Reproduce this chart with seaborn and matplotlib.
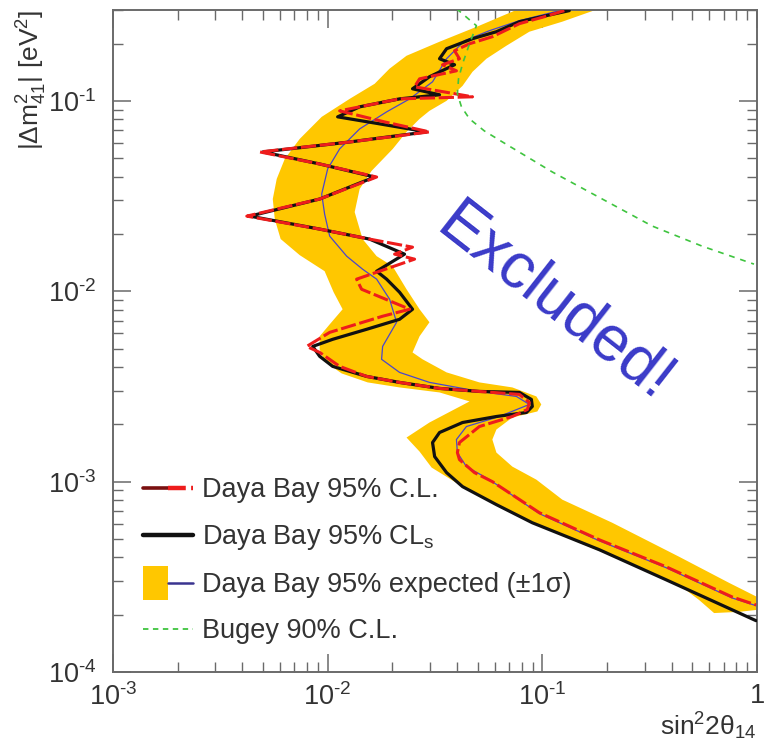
import numpy as np
import matplotlib
matplotlib.use("Agg")
import matplotlib.pyplot as plt
import matplotlib.patches as mpatches
from matplotlib.lines import Line2D
from matplotlib.legend_handler import HandlerPatch, HandlerTuple
from matplotlib.ticker import LogLocator, NullFormatter
import seaborn as sns

# ---------------------------------------------------------------- data
# Expected sensitivity band (+-1 sigma): outer edge and inner edge, top to bottom
band_outer_x = [0.0782, 0.0509, 0.0332, 0.0233, 0.0194, 0.01655, 0.01266, 0.00938,
                0.00741, 0.00631, 0.00579, 0.00555, 0.00567, 0.00604, 0.00741, 0.00968,
                0.01066, 0.01174, 0.01022, 0.00918, 0.00918, 0.00968, 0.01162, 0.01535,
                0.02162, 0.0332, 0.0458, 0.0298, 0.0233, 0.0268, 0.0305, 0.0425,
                0.0725, 0.1486, 0.3046, 0.4338, 0.537, 0.631, 0.825, 1.0]
band_outer_y = [0.305, 0.2482, 0.2044, 0.1725, 0.1474, 0.1229, 0.1024, 0.0824,
                0.0631, 0.0495, 0.0389, 0.0305, 0.0239, 0.0188, 0.01547, 0.01274,
                0.00988, 0.00804, 0.00670, 0.00580, 0.00495, 0.00428, 0.00370, 0.00332,
                0.003124, 0.00294, 0.002637, 0.002044, 0.001704, 0.001438, 0.001185, 0.000941,
                0.000687, 0.000477, 0.000344, 0.000287, 0.000239, 0.000204, 0.000207, 0.000212]
band_inner_x = [0.1841, 0.1239, 0.0870, 0.0680, 0.0549, 0.0473, 0.0425, 0.0358,
                0.0298, 0.0268, 0.0233, 0.0201, 0.0160, 0.01409, 0.01336, 0.01455,
                0.01691, 0.02006, 0.0233, 0.0268, 0.0298, 0.0268, 0.02485, 0.02767,
                0.0358, 0.0509, 0.0725, 0.0938, 0.0989, 0.0948, 0.0725, 0.0611,
                0.0585, 0.0611, 0.0725, 0.0938, 0.1239, 0.2117, 0.4338, 0.7409, 1.0]
band_inner_y = [0.305, 0.2605, 0.2307, 0.1947, 0.1664, 0.1421, 0.1199, 0.1000,
                0.0886, 0.0804, 0.0687, 0.0559, 0.0428, 0.03442, 0.02605, 0.01878,
                0.01528, 0.01354, 0.01024, 0.00804, 0.00687, 0.00580, 0.00477, 0.00439,
                0.003747, 0.00332, 0.003124, 0.002802, 0.002543, 0.002336, 0.002172, 0.001878,
                0.001664, 0.001421, 0.001199, 0.001024, 0.000804, 0.000608, 0.000403, 0.000294, 0.000248]

# Expected (median) sensitivity
expected_x = [0.1200, 0.0782, 0.0567, 0.0434, 0.0358, 0.0308, 0.0241, 0.01882,
              0.01409, 0.01137, 0.0100, 0.00938, 0.00968, 0.01022, 0.01226, 0.01455,
              0.01691, 0.01943, 0.02094, 0.01803, 0.01783, 0.02162, 0.0298, 0.0509,
              0.0757, 0.0870, 0.0631, 0.0443, 0.0398, 0.0402, 0.0443, 0.0567,
              0.0968, 0.1841, 0.3773, 0.765, 0.99]
expected_y = [0.2977, 0.2637, 0.2336, 0.2069, 0.1664, 0.1259, 0.1024, 0.0875,
              0.0712, 0.0559, 0.0439, 0.0324, 0.0254, 0.01947, 0.01528, 0.01305,
              0.01157, 0.00908, 0.00687, 0.00513, 0.00439, 0.003747, 0.00332, 0.002976,
              0.002802, 0.002543, 0.002198, 0.001947, 0.001664, 0.001421, 0.001199, 0.001024,
              0.000679, 0.000489, 0.000353, 0.000245, 0.000223]

# Observed 95% CLs contour
cls_x = [0.1335, 0.1044, 0.0782, 0.0611, 0.0473, 0.0358, 0.0332, 0.0390,
         0.0298, 0.02485, 0.0332, 0.02162, 0.01409, 0.01113, 0.01746, 0.0289,
         0.01266, 0.00499, 0.00918, 0.01655, 0.00918, 0.00434, 0.00918, 0.01568,
         0.02281, 0.01691, 0.01882, 0.02162, 0.02485, 0.02162, 0.01519, 0.01055,
         0.00852, 0.00918, 0.01055, 0.01519, 0.02162, 0.0332, 0.0509, 0.0782,
         0.0889, 0.0898, 0.0843, 0.0611, 0.0425, 0.0332, 0.0308, 0.0315,
         0.0358, 0.0425, 0.0611, 0.0898, 0.1841, 0.3773, 0.99]
cls_y = [0.2977, 0.2802, 0.2605, 0.2307, 0.2120, 0.1878, 0.1664, 0.1547,
         0.1338, 0.1157, 0.1076, 0.1024, 0.0930, 0.0824, 0.0757, 0.0687,
         0.0608, 0.0539, 0.0466, 0.0398, 0.0305, 0.0248, 0.0212, 0.01878,
         0.01566, 0.01274, 0.01157, 0.00988, 0.00804, 0.00712, 0.00631, 0.00559,
         0.00513, 0.00455, 0.00403, 0.003569, 0.003319, 0.003087, 0.002976, 0.002941,
         0.002702, 0.002482, 0.002307, 0.002198, 0.002044, 0.001811, 0.001604, 0.001354,
         0.001115, 0.000941, 0.000757, 0.000608, 0.000439, 0.000305, 0.000186]

# Observed 95% C.L. contour
cl_x = [0.1266, 0.1022, 0.0782, 0.0585, 0.0458, 0.0390, 0.0411, 0.0343,
        0.0398, 0.0268, 0.0254, 0.0473, 0.0216, 0.01137, 0.01842, 0.0298,
        0.01266, 0.00483, 0.00918, 0.01691, 0.00918, 0.00420, 0.00918, 0.01568,
        0.02485, 0.0205, 0.0254, 0.01364, 0.01439, 0.02233, 0.02407, 0.01803,
        0.01022, 0.00799, 0.00918, 0.01137, 0.01519, 0.02162, 0.0332, 0.0509,
        0.0782, 0.0870, 0.0852, 0.0725, 0.0509, 0.0411, 0.0402, 0.0411,
        0.0483, 0.0585, 0.0968, 0.1841, 0.3773, 0.765, 0.99]
cl_y = [0.2977, 0.2767, 0.2543, 0.2172, 0.1995, 0.1833, 0.1664, 0.1547,
        0.1438, 0.1305, 0.1185, 0.1050, 0.1024, 0.0886, 0.0775, 0.0687,
        0.0608, 0.0539, 0.0466, 0.0398, 0.0305, 0.0248, 0.0212, 0.01878,
        0.01704, 0.01566, 0.01474, 0.01157, 0.01024, 0.00834, 0.00804, 0.00739,
        0.00608, 0.00513, 0.00477, 0.00403, 0.003569, 0.003319, 0.003087, 0.002976,
        0.002871, 0.002605, 0.002393, 0.002198, 0.001947, 0.001604, 0.001421, 0.001305,
        0.001115, 0.001000, 0.000687, 0.000495, 0.000357, 0.000248, 0.000225]

# Bugey 90% C.L.
bugey_x = [0.0398, 0.0493, 0.0458, 0.0425, 0.0407, 0.0402, 0.0420, 0.0458,
           0.0537, 0.0652, 0.1113, 0.1902, 0.3249, 0.5548, 0.968]
bugey_y = [0.305, 0.2482, 0.1995, 0.1566, 0.1305, 0.1089, 0.0930, 0.0804,
           0.0695, 0.0608, 0.0423, 0.0305, 0.0220, 0.01725, 0.01388]

x_ticks = [1e-3, 1e-2, 1e-1, 1.0]
x_tick_labels = [r"$10^{\text{-}3}$", r"$10^{\text{-}2}$", r"$10^{\text{-}1}$", "1"]
y_ticks = [1e-4, 1e-3, 1e-2, 1e-1]
y_tick_labels = [r"$10^{\text{-}4}$", r"$10^{\text{-}3}$", r"$10^{\text{-}2}$", r"$10^{\text{-}1}$"]

legend_labels = ["Daya Bay 95% C.L.", r"Daya Bay 95% CL$_\mathrm{s}$",
                 "Daya Bay 95% expected (±1σ)", "Bugey 90% C.L."]

# ---------------------------------------------------------------- style
sns.set_style("ticks")
plt.rcParams["font.family"] = ["Liberation Sans", "DejaVu Sans"]
plt.rcParams["mathtext.fontset"] = "custom"
plt.rcParams["mathtext.rm"] = "Liberation Sans"
plt.rcParams["mathtext.it"] = "Liberation Sans:italic"
plt.rcParams["mathtext.bf"] = "Liberation Sans:bold"
plt.rcParams["mathtext.sf"] = "Liberation Sans"

YELLOW = "#ffc700"
RED = "#ee1c1c"
BLACK = "#111111"
BLUE = "#4a46cc"
GREEN = "#3fc43f"
FRAME = "#6a6a6a"
TEXT = "#333333"

fig = plt.figure(figsize=(7.69, 7.49), dpi=100)
ax = fig.add_axes([113 / 769, 1 - 672 / 749, 644 / 769, 662 / 749])
ax.set_xscale("log")
ax.set_yscale("log")

# sensitivity band
poly_x = np.concatenate([band_outer_x, band_inner_x[::-1]])
poly_y = np.concatenate([band_outer_y, band_inner_y[::-1]])
ax.fill(poly_x, poly_y, color=YELLOW, lw=0, zorder=1)

# contours
sns.lineplot(x=expected_x, y=expected_y, sort=False, estimator=None, ax=ax,
             color=BLUE, linewidth=0.9, zorder=2)
sns.lineplot(x=cls_x, y=cls_y, sort=False, estimator=None, ax=ax,
             color=BLACK, linewidth=2.3, zorder=3)
sns.lineplot(x=cl_x, y=cl_y, sort=False, estimator=None, ax=ax,
             color=RED, linewidth=2.2, linestyle=(0, (5, 1.2)), zorder=4)
sns.lineplot(x=bugey_x, y=bugey_y, sort=False, estimator=None, ax=ax,
             color=GREEN, linewidth=1.2, linestyle=(0, (3.5, 3.5)), zorder=5)

ax.set_xlim(1e-3, 1.0)
ax.set_ylim(1e-4, 0.3)

# axes, ticks
ax.set_xticks(x_ticks, labels=x_tick_labels)
ax.set_yticks(y_ticks, labels=y_tick_labels)
ax.xaxis.set_minor_locator(LogLocator(base=10, subs=np.arange(2, 10)))
ax.yaxis.set_minor_locator(LogLocator(base=10, subs=np.arange(2, 10)))
ax.xaxis.set_minor_formatter(NullFormatter())
ax.yaxis.set_minor_formatter(NullFormatter())
ax.tick_params(which="both", direction="in", top=True, right=True,
               color=FRAME, labelcolor=TEXT, labelsize=19.5)
ax.tick_params(which="major", length=13, width=1.1)
ax.tick_params(which="minor", length=7, width=1.0)
ax.tick_params(axis="x", which="major", pad=8)
ax.tick_params(axis="y", which="major", pad=12)
for s in ax.spines.values():
    s.set_color(FRAME)
    s.set_linewidth(1.4)

ax.set_xlabel("sin$^2$2θ$_{14}$", loc="right", fontsize=19, color=TEXT, labelpad=0)
ax.set_ylabel(r"|Δm$^2_{41}$| [eV$^2$]", loc="top", fontsize=19, color=TEXT)
ax.yaxis.set_label_coords(-0.099, 1.0)

ax.text(0.686, 0.557, "Excluded!", transform=ax.transAxes, rotation=-38,
        rotation_mode="anchor", ha="center", va="center",
        fontsize=46, color="#3a3ac8", zorder=6)

# legend
h_cl = (Line2D([], [], color="#7a1010", lw=2.6),
        Line2D([], [], color=RED, lw=3.2, linestyle=(0, (4, 1.2))))
h_cls = Line2D([], [], color=BLACK, lw=3.2)
band_patch = mpatches.Patch(facecolor=YELLOW, edgecolor="none")
h_exp = (band_patch, Line2D([], [], color="#3a3490", lw=1.8))
h_bugey = Line2D([], [], color=GREEN, lw=1.3, linestyle=(0, (3, 2.5)))


def tall_patch(legend, orig_handle, xdescent, ydescent, width, height, fontsize):
    h = height * 1.8
    return mpatches.Rectangle((-xdescent, -ydescent - (h - height) / 2), width, h)


leg = ax.legend([h_cl, h_cls, h_exp, h_bugey], legend_labels,
                loc="upper left", bbox_to_anchor=(0.046, 0.294),
                frameon=False, fontsize=19.5, handlelength=1.85, handletextpad=0.35,
                labelspacing=0.74, borderpad=0, borderaxespad=0,
                handler_map={tuple: HandlerTuple(ndivide=None),
                             band_patch: HandlerPatch(patch_func=tall_patch)})
for t in leg.get_texts():
    t.set_color(TEXT)

fig.savefig("out.png", dpi=100)
